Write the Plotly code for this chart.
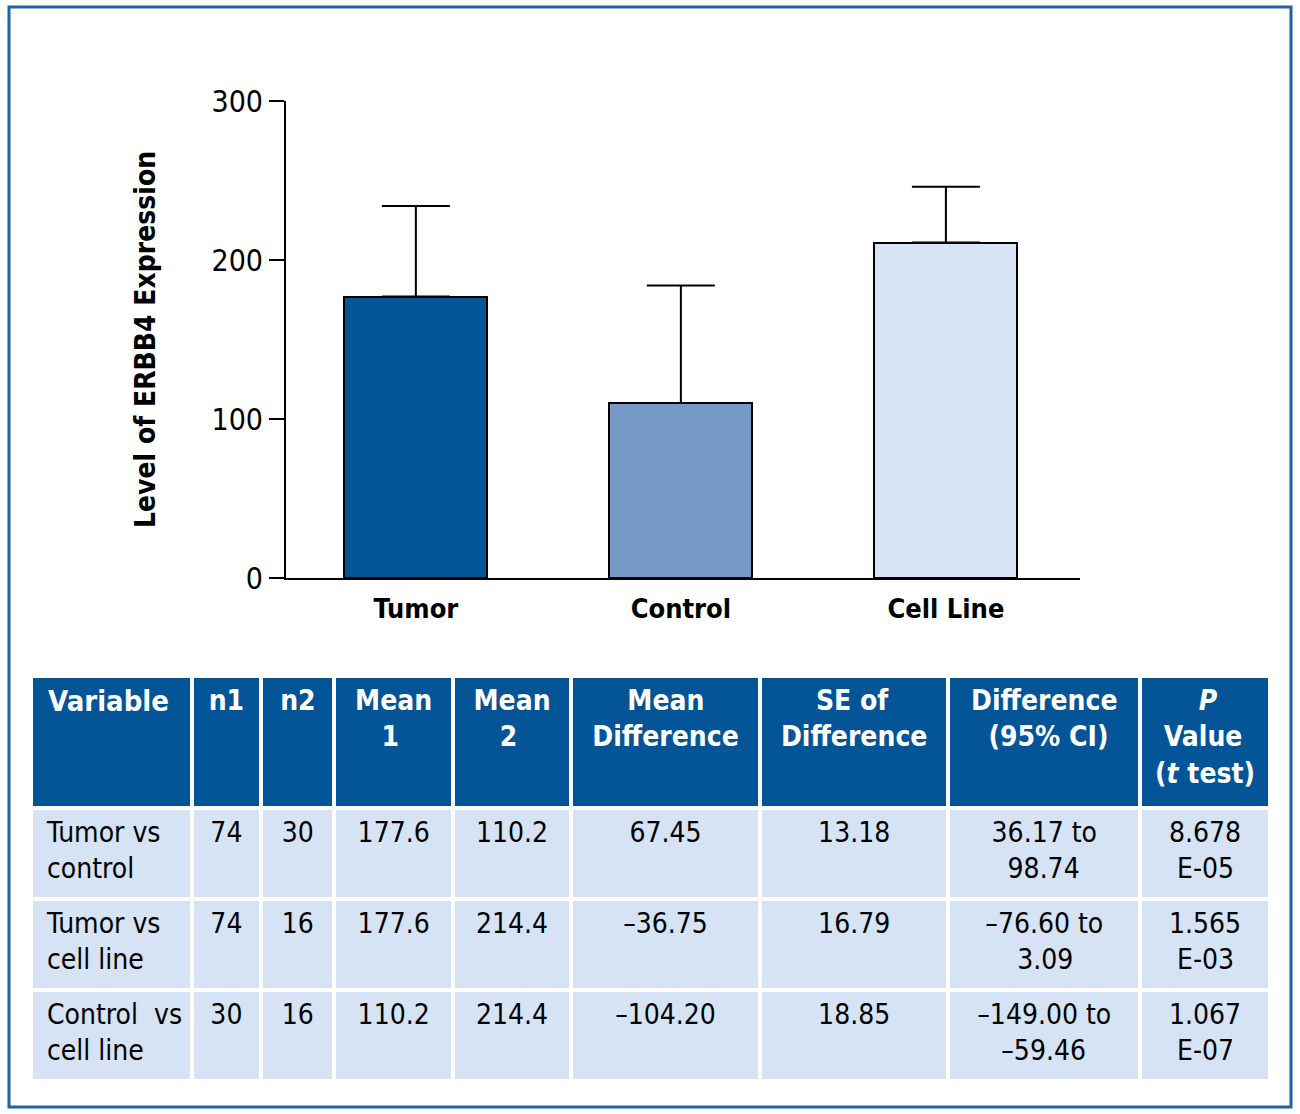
import plotly.graph_objects as go
import re

W, H = 1300, 1114

# ---- bar chart data ----
categories = ["Tumor", "Control", "Cell Line"]
means = [177, 110, 211]
errors_up = [57, 74, 35]
bar_colors = ["#035597", "#7799c5", "#d6e4f5"]
y_ticks = [0, 100, 200, 300]

# ---- table data ----
header = ["Variable", "n1", "n2", "Mean<br>1", "Mean<br>2", "Mean<br>Difference",
          "SE of<br>Difference", "Difference<br>(95% CI)", "<i>P</i><br>Value<br>(<i>t</i> test)"]
variable = ["Tumor vs<br>control", "Tumor vs<br>cell line", "Control  vs<br>cell line"]
n1 = ["74", "74", "30"]
n2 = ["30", "16", "16"]
mean1 = ["177.6", "177.6", "110.2"]
mean2 = ["110.2", "214.4", "214.4"]
mean_diff = ["67.45", "–36.75", "–104.20"]
se_diff = ["13.18", "16.79", "18.85"]
ci = ["36.17 to<br>98.74", "–76.60 to<br>3.09", "–149.00 to<br>–59.46"]
p_value = ["8.678<br>E-05", "1.565<br>E-03", "1.067<br>E-07"]
col_widths = [160, 69.5, 73, 118, 118, 188, 188, 191, 129.5]

FONT = "DejaVu Sans Condensed, DejaVu Sans, sans-serif"

# approximate DejaVu Sans advance widths (em) used to centre the lines of multi-line cells
REG_W = {" ": .318, ".": .318, "-": .361, "–": .5, "E": .632, "t": .392, "o": .612}
BOLD_W = {" ": .348, "M": .995, "e": .678, "a": .675, "n": .712, "D": .830, "i": .343,
          "f": .435, "r": .493, "c": .593, "S": .722, "E": .682, "o": .687, "(": .457,
          ")": .457, "%": 1.002, "C": .734, "I": .372, "P": .733, "V": .774, "l": .343,
          "u": .712, "t": .478, "s": .595}


def text_width(s, bold):
    table = BOLD_W if bold else REG_W
    digit = .696 if bold else .636
    plain = re.sub(r"<[^>]+>", "", s)
    return sum(table.get(ch, digit if ch.isdigit() else .6) for ch in plain)


def center_lines(s, bold=False):
    lines = s.split("<br>")
    widths = [text_width(l, bold) for l in lines]
    wmax = max(widths)
    space = BOLD_W[" "] if bold else REG_W[" "]
    out = []
    for l, w in zip(lines, widths):
        n = int(round((wmax - w) / 2 / space))
        out.append("&nbsp;" * n + l)
    if len(out) == 1:  # keep single-line cells on the same baseline as multi-line ones
        out.append("&nbsp;")
    return "<br>".join(out)


def indent_lines(s):
    return "<br>".join("&nbsp;" + l for l in s.split("<br>"))


def px_x(p):
    return p / W


def px_y(p):
    return 1 - p / H


fig = go.Figure()

fig.add_trace(go.Bar(
    x=categories, y=means,
    marker=dict(color=bar_colors, line=dict(color="black", width=2)),
    width=0.54,
    error_y=dict(type="data", symmetric=False, array=errors_up,
                 arrayminus=[0] * len(means), color="black", thickness=2, width=34),
    xaxis="x", yaxis="y", showlegend=False,
))

header_txt = [indent_lines(header[0])] + [center_lines(h, bold=True) for h in header[1:]]
body_cols = [variable, n1, n2, mean1, mean2, mean_diff, se_diff, ci, p_value]
body_txt = [[indent_lines(v) for v in variable]] + \
           [[center_lines(v) for v in col] for col in body_cols[1:]]

fig.add_trace(go.Table(
    domain=dict(x=[px_x(31), px_x(1270)], y=[px_y(1083), px_y(676)]),
    columnwidth=col_widths,
    header=dict(
        values=header_txt,
        fill_color="#035597",
        line=dict(color="white", width=4),
        align=["left"] + ["center"] * 8,
        font=dict(family=FONT, size=[29] + [28] * 8, color="white", weight="bold"),
        height=132,
    ),
    cells=dict(
        values=body_txt,
        fill_color="#d5e3f4",
        line=dict(color="white", width=4),
        align=["left"] + ["center"] * 8,
        font=dict(family=FONT, size=28, color="black"),
        height=91,
    ),
))

fig.update_layout(
    width=W, height=H, autosize=False,
    margin=dict(l=0, r=0, t=0, b=0, pad=0, autoexpand=False),
    paper_bgcolor="white", plot_bgcolor="white",
    font=dict(family=FONT, color="black"),
    bargap=0,
    xaxis=dict(
        domain=[px_x(286), px_x(1080)],
        anchor="y",
        range=[-0.49, 2.506],
        showline=True, linecolor="black", linewidth=2,
        ticks="", showgrid=False, zeroline=False,
        tickfont=dict(family=FONT, size=27, color="black", weight="bold"),
        ticklabelstandoff=6, automargin=False,
    ),
    yaxis=dict(
        domain=[px_y(578), px_y(101)],
        anchor="x",
        range=[0, 300],
        tickvals=y_ticks,
        showline=True, linecolor="black", linewidth=2,
        ticks="outside", ticklen=15, tickwidth=2, tickcolor="black",
        showgrid=False, zeroline=False, automargin=False,
        tickfont=dict(family=FONT, size=30, color="black"),
        title=dict(text="Level of ERBB4 Expression", standoff=48,
                   font=dict(family=FONT, size=28, color="black", weight="bold")),
    ),
    shapes=[dict(type="rect", xref="paper", yref="paper",
                 x0=px_x(9), x1=px_x(1291), y0=px_y(1107), y1=px_y(7),
                 line=dict(color="#2161a6", width=3))],
)

fig.write_html("out.html", config={"displayModeBar": False},
               post_script="document.body.style.margin='0px';")
